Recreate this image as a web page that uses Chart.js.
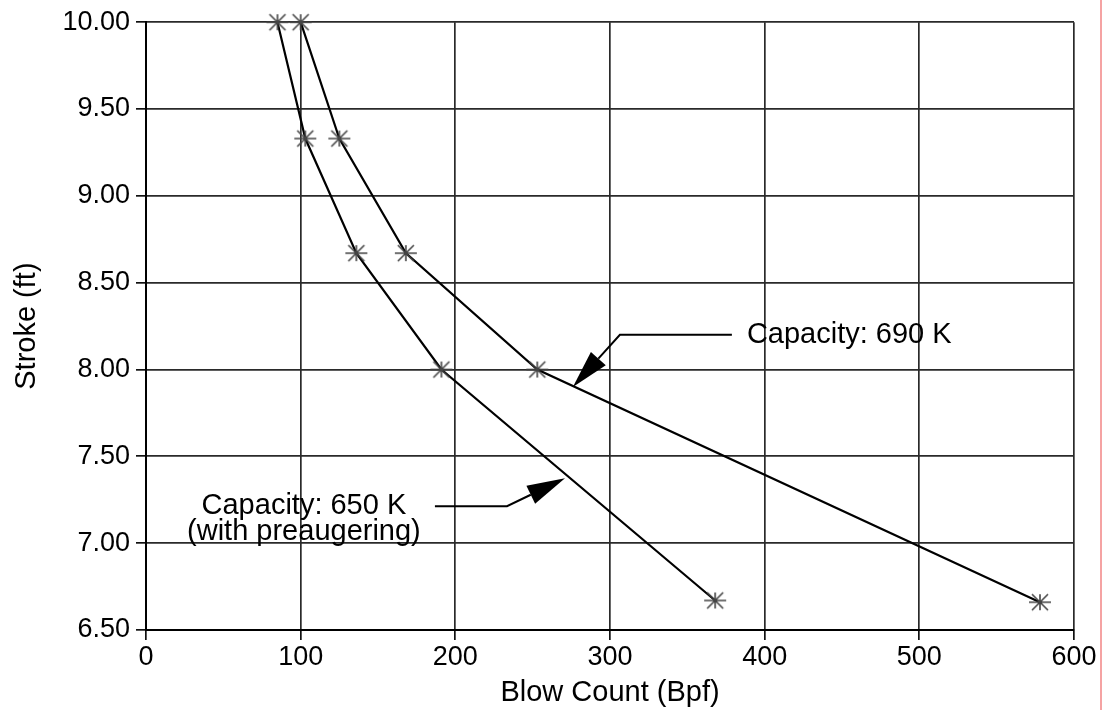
<!DOCTYPE html>
<html>
<head>
<meta charset="utf-8">
<script src="https://cdn.jsdelivr.net/npm/chart.js@4/dist/chart.umd.min.js"></script>
<style>
  html, body { margin: 0; padding: 0; background: #fff; }
  #wrap { position: relative; width: 1103px; height: 710px; }
  #redLine { position: absolute; left: 1100px; top: 0; width: 2px; height: 710px; background: #f5a3a3; }
</style>
</head>
<body>
<div id="wrap">
  <canvas id="strokeChart" width="1103" height="710"></canvas>
  <div id="redLine"></div>
</div>
<script>
// blow count (Bpf) vs stroke (ft)
const blowCount650 = [85, 103, 136, 191, 368];
const stroke650 = [10.00, 9.33, 8.67, 8.00, 6.67];
const blowCount690 = [100, 125, 168, 253, 578];
const stroke690 = [10.00, 9.33, 8.67, 8.00, 6.66];

const xTicks = [0, 100, 200, 300, 400, 500, 600];
const yTicks = [6.5, 7.0, 7.5, 8.0, 8.5, 9.0, 9.5, 10.0];

const FONT = "'Liberation Sans', Arial, Helvetica, sans-serif";

// callouts, in data units
const callouts = [
  { lines: ["Capacity: 690 K"], textAt: [388.5, 8.20], align: "left",
    path: [[378.8, 8.20], [306.4, 8.20], [276.0, 7.90]] },
  { lines: ["Capacity: 650 K", "(with preaugering)"], textAt: [102.1, 7.213], align: "center",
    path: [[186.8, 7.213], [233.4, 7.213], [270.9, 7.374]] }
];

// asterisk marker
function makeAsterisk() {
  const c = document.createElement("canvas");
  c.width = 24; c.height = 20;
  const g = c.getContext("2d");
  g.strokeStyle = "#444";
  g.lineWidth = 1.6;
  g.beginPath();
  g.moveTo(1, 10); g.lineTo(23, 10);
  g.moveTo(4, 2); g.lineTo(20, 18);
  g.moveTo(4, 18); g.lineTo(20, 2);
  g.moveTo(12, 2); g.lineTo(12, 18);
  g.stroke();
  return c;
}
const asterisk = makeAsterisk();

const toPoints = (xs, ys) => xs.map((x, i) => ({ x: x, y: ys[i] }));

const calloutPlugin = {
  id: "callouts",
  afterDatasetsDraw(chart) {
    const { ctx, scales: { x, y } } = chart;
    ctx.save();
    ctx.fillStyle = "#000";
    ctx.strokeStyle = "#000";
    ctx.font = "29px " + FONT;
    ctx.textBaseline = "middle";
    callouts.forEach(c => {
      ctx.textAlign = c.align;
      const tx = x.getPixelForValue(c.textAt[0]);
      const ty = y.getPixelForValue(c.textAt[1]);
      c.lines.forEach((t, i) => ctx.fillText(t, tx, ty + i * 26));

      const pts = c.path.map(p => [x.getPixelForValue(p[0]), y.getPixelForValue(p[1])]);
      const tip = pts[pts.length - 1];
      const prev = pts[pts.length - 2];
      const dx = tip[0] - prev[0], dy = tip[1] - prev[1];
      const len = Math.hypot(dx, dy);
      const ux = dx / len, uy = dy / len;
      const headLen = 38, headHalf = 10;
      const bx = tip[0] - ux * headLen, by = tip[1] - uy * headLen;

      ctx.lineWidth = 2;
      ctx.beginPath();
      ctx.moveTo(pts[0][0], pts[0][1]);
      for (let i = 1; i < pts.length - 1; i++) ctx.lineTo(pts[i][0], pts[i][1]);
      ctx.lineTo(bx, by);
      ctx.stroke();

      ctx.beginPath();
      ctx.moveTo(tip[0], tip[1]);
      ctx.lineTo(bx - uy * headHalf, by + ux * headHalf);
      ctx.lineTo(bx + uy * headHalf, by - ux * headHalf);
      ctx.closePath();
      ctx.fill();
    });
    ctx.restore();
  }
};

const ctx = document.getElementById("strokeChart").getContext("2d");
new Chart(ctx, {
  type: "scatter",
  data: {
    datasets: [
      {
        label: "Capacity: 650 K (with preaugering)",
        data: toPoints(blowCount650, stroke650),
        showLine: true,
        borderColor: "#000",
        borderWidth: 2.2,
        pointStyle: asterisk,
        pointRadius: 10,
        clip: false,
        tension: 0
      },
      {
        label: "Capacity: 690 K",
        data: toPoints(blowCount690, stroke690),
        showLine: true,
        borderColor: "#000",
        borderWidth: 2.2,
        pointStyle: asterisk,
        pointRadius: 10,
        clip: false,
        tension: 0
      }
    ]
  },
  options: {
    responsive: false,
    animation: false,
    layout: { padding: { top: 19, right: 29, left: 10, bottom: 0 } },
    plugins: {
      legend: { display: false },
      tooltip: { enabled: false }
    },
    scales: {
      x: {
        type: "linear",
        min: 0, max: 600,
        afterBuildTicks: s => { s.ticks = xTicks.map(v => ({ value: v })); },
        afterFit: s => { s.height = 80; },
        grid: { color: "#2a2a2a", lineWidth: 1.7, tickLength: 10, tickColor: "#111" },
        border: { display: true, color: "#000", width: 2 },
        ticks: { color: "#000", font: { family: FONT, size: 27 }, padding: 1, maxRotation: 0 },
        title: { display: true, text: "Blow Count (Bpf)", color: "#000",
                 font: { family: FONT, size: 29 }, padding: { top: 4, bottom: 0 } }
      },
      y: {
        type: "linear",
        min: 6.5, max: 10,
        afterBuildTicks: s => { s.ticks = yTicks.map(v => ({ value: v })); },
        afterFit: s => { s.width = 136; },
        grid: { color: "#2a2a2a", lineWidth: 1.7, tickLength: 10, tickColor: "#111" },
        border: { display: true, color: "#000", width: 2 },
        ticks: { color: "#000", font: { family: FONT, size: 27 }, padding: 6,
                 callback: v => Number(v).toFixed(2) },
        title: { display: true, text: "Stroke (ft)", color: "#000",
                 font: { family: FONT, size: 29 }, padding: { top: 0, bottom: 0 } }
      }
    }
  },
  plugins: [calloutPlugin]
});
</script>
</body>
</html>
